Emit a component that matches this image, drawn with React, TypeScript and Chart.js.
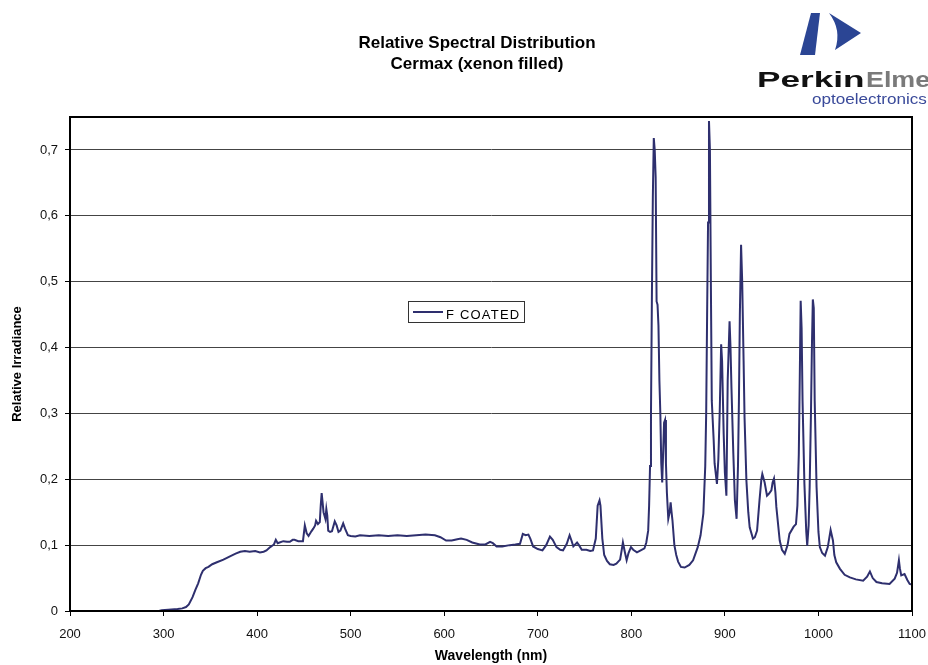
import React, { useEffect, useRef } from 'react';
import { Chart, registerables } from 'chart.js';

Chart.register(...registerables);

const titleLines = ['Relative Spectral Distribution', 'Cermax (xenon filled)'];
const seriesLabel = 'F COATED';
const xAxisTitle = 'Wavelength (nm)';
const yAxisTitle = 'Relative Irradiance';
const logoWord1 = 'Perkin';
const logoWord2 = 'Elmer';
const logoSub = 'optoelectronics';

const xMin = 200;
const xMax = 1100;
const xStep = 100;
const yMin = 0;
const yMax = 0.75;
const yStep = 0.1;

const wavelengths = [
  200, 250, 295, 298, 305, 315, 320, 324, 327, 331, 334, 337, 340, 342, 345, 348, 352, 357, 364, 371,
  377, 382, 387, 392, 398, 403, 407, 410, 414, 418, 420, 422, 424, 428, 432, 435, 438, 440, 444, 449,
  451, 453, 455, 458, 460, 462, 463, 465, 467, 468, 469, 470, 471, 473, 474, 475, 476, 478, 480, 483,
  485, 487, 489, 492, 494, 497, 500, 505, 510, 520, 530, 540, 550, 560, 570, 580, 590, 596, 602, 608,
  614, 618, 624, 630, 638, 644, 649, 652, 656, 662, 670, 676, 681, 684, 687, 690, 692, 695, 700, 705,
  709, 713, 716, 720, 724, 727, 731, 734, 736, 738, 742, 744, 747, 752, 756, 759, 762, 764, 766, 767,
  769, 771, 774, 777, 781, 784, 788, 790, 791, 793, 795, 797, 799.6, 802, 806, 810, 814, 816, 818, 819,
  820, 821, 822, 823, 824, 825, 826, 827, 828, 829, 830, 831, 832, 833, 834, 835, 836, 837, 838, 839.5,
  841, 842, 843, 844, 846, 848, 850, 853, 857, 862, 866, 871, 874, 877, 879, 880, 881, 882, 883, 884,
  885, 886, 888, 889, 891.5, 893, 894.5, 896, 897, 898.7, 900, 901.6, 903, 905, 906, 907, 909, 910.7, 912.5, 914,
  915, 916, 917.3, 918.5, 920, 921, 923, 925, 926.5, 930, 932, 934.4, 937, 939, 940, 942.5, 945, 947, 949.7, 951,
  952.5, 954, 955, 958.6, 961, 964, 967, 969, 973.5, 976, 977.5, 979, 980, 981, 982, 983, 985, 987, 988, 989.5,
  990.6, 992, 993, 994, 995, 996, 998, 1000, 1001.5, 1004, 1007, 1010, 1013, 1015.5, 1017, 1019, 1023, 1028, 1033.6, 1040,
  1047.8, 1052, 1055, 1058, 1062, 1068, 1076, 1081.5, 1084, 1086, 1087, 1088.5, 1092, 1095, 1097.5, 1100,
];

const irradiance = [
  0, 0, 0, 0.001, 0.002, 0.003, 0.004, 0.006, 0.01, 0.021, 0.032, 0.042, 0.055, 0.061, 0.065, 0.067, 0.071, 0.074, 0.078, 0.083,
  0.087, 0.09, 0.091, 0.09, 0.091, 0.089, 0.09, 0.092, 0.097, 0.101, 0.108, 0.103, 0.104, 0.106, 0.105, 0.105, 0.108, 0.108, 0.106, 0.106,
  0.13, 0.118, 0.114, 0.121, 0.125, 0.13, 0.137, 0.132, 0.135, 0.16, 0.179, 0.165, 0.15, 0.14, 0.155, 0.145, 0.122, 0.12, 0.121, 0.136,
  0.13, 0.12, 0.122, 0.133, 0.125, 0.115, 0.114, 0.113, 0.115, 0.114, 0.115, 0.114, 0.115, 0.114, 0.115, 0.116, 0.115, 0.112, 0.107, 0.107,
  0.109, 0.11, 0.108, 0.104, 0.101, 0.101, 0.105, 0.103, 0.098, 0.098, 0.1, 0.101, 0.102, 0.117, 0.115, 0.116, 0.11, 0.098, 0.094, 0.092,
  0.1, 0.113, 0.108, 0.097, 0.093, 0.092, 0.102, 0.115, 0.107, 0.098, 0.104, 0.1, 0.093, 0.093, 0.091, 0.092, 0.11, 0.16, 0.168, 0.16,
  0.11, 0.085, 0.076, 0.071, 0.07, 0.072, 0.078, 0.095, 0.104, 0.09, 0.077, 0.088, 0.097, 0.093, 0.089, 0.092, 0.095, 0.104, 0.122, 0.16,
  0.22, 0.3, 0.48, 0.63, 0.718, 0.7, 0.658, 0.47, 0.465, 0.433, 0.35, 0.3, 0.224, 0.195, 0.24, 0.286, 0.29, 0.224, 0.18, 0.14,
  0.15, 0.165, 0.15, 0.137, 0.1, 0.085, 0.075, 0.067, 0.066, 0.07, 0.077, 0.097, 0.115, 0.148, 0.22, 0.3, 0.45, 0.59, 0.744, 0.7,
  0.5, 0.319, 0.26, 0.224, 0.193, 0.23, 0.304, 0.405, 0.38, 0.269, 0.21, 0.175, 0.35, 0.44, 0.4, 0.34, 0.24, 0.168, 0.14, 0.22,
  0.319, 0.45, 0.556, 0.5, 0.38, 0.294, 0.198, 0.15, 0.127, 0.11, 0.112, 0.122, 0.168, 0.2, 0.208, 0.195, 0.175, 0.178, 0.183, 0.195,
  0.201, 0.18, 0.158, 0.107, 0.093, 0.087, 0.1, 0.117, 0.128, 0.132, 0.16, 0.238, 0.35, 0.471, 0.43, 0.32, 0.193, 0.12, 0.099, 0.13,
  0.188, 0.3, 0.4, 0.473, 0.46, 0.319, 0.188, 0.12, 0.097, 0.088, 0.084, 0.097, 0.123, 0.107, 0.085, 0.074, 0.064, 0.055, 0.051, 0.048,
  0.046, 0.052, 0.06, 0.05, 0.044, 0.042, 0.041, 0.049, 0.058, 0.077, 0.065, 0.054, 0.056, 0.047, 0.041, 0.04,
];

const FONT = '"Liberation Sans", Arial, sans-serif';
const LINE_COLOR = '#2e2f6e';

const decorPlugin = {
  id: 'decor',
  afterDraw(chart: any) {
    const ctx = chart.ctx as CanvasRenderingContext2D;
    const a = chart.chartArea;
    ctx.save();
    // frame
    ctx.strokeStyle = '#000';
    ctx.lineWidth = 2;
    ctx.strokeRect(a.left, a.top, a.right - a.left, a.bottom - a.top);

    // title
    ctx.fillStyle = '#000';
    ctx.font = `bold 17px ${FONT}`;
    ctx.textAlign = 'center';
    ctx.textBaseline = 'middle';
    ctx.fillText(titleLines[0], 477, 43);
    ctx.fillText(titleLines[1], 477, 64);

    // legend
    const lx = 408, ly = 301, lw = 116, lh = 21;
    ctx.fillStyle = '#fff';
    ctx.fillRect(lx, ly, lw, lh);
    ctx.strokeStyle = '#333';
    ctx.lineWidth = 1;
    ctx.strokeRect(lx + 0.5, ly + 0.5, lw, lh);
    ctx.strokeStyle = LINE_COLOR;
    ctx.lineWidth = 2;
    ctx.beginPath();
    ctx.moveTo(413, 312);
    ctx.lineTo(443, 312);
    ctx.stroke();
    ctx.fillStyle = '#000';
    ctx.font = `13px ${FONT}`;
    (ctx as any).letterSpacing = '1.2px';
    ctx.textAlign = 'left';
    ctx.textBaseline = 'alphabetic';
    ctx.fillText(seriesLabel, 446, 318.5);
    (ctx as any).letterSpacing = '0px';

    // logo mark
    ctx.fillStyle = '#2b4594';
    ctx.beginPath();
    ctx.moveTo(811, 13);
    ctx.lineTo(820, 13);
    ctx.lineTo(815, 55);
    ctx.lineTo(800, 55);
    ctx.closePath();
    ctx.fill();
    ctx.beginPath();
    ctx.moveTo(829, 13);
    ctx.lineTo(861, 33);
    ctx.lineTo(835, 50);
    ctx.quadraticCurveTo(842, 30, 829, 13);
    ctx.closePath();
    ctx.fill();

    // logo text
    ctx.save();
    ctx.beginPath();
    ctx.rect(740, 0, 188, 115);
    ctx.clip();
    ctx.font = `bold 22px ${FONT}`;
    ctx.textAlign = 'left';
    ctx.textBaseline = 'alphabetic';
    ctx.save();
    ctx.translate(757, 87);
    ctx.scale(1.6, 1);
    ctx.fillStyle = '#111';
    ctx.fillText(logoWord1, 0, 0);
    ctx.restore();
    ctx.save();
    ctx.translate(866, 87);
    ctx.scale(1.22, 1);
    ctx.fillStyle = '#7a7a7a';
    ctx.fillText(logoWord2, 0, 0);
    ctx.restore();
    ctx.restore();

    ctx.save();
    ctx.translate(812, 104);
    ctx.scale(1.22, 1);
    ctx.font = `14px ${FONT}`;
    ctx.fillStyle = '#3a4a9a';
    ctx.textAlign = 'left';
    ctx.textBaseline = 'alphabetic';
    ctx.fillText(logoSub, 0, 0);
    ctx.restore();

    ctx.restore();
  },
};

export default function App() {
  const ref = useRef<HTMLCanvasElement | null>(null);

  useEffect(() => {
    if (!ref.current) return;
    const chart = new Chart(ref.current, {
      type: 'line',
      data: {
        datasets: [
          {
            label: seriesLabel,
            data: wavelengths.map((w, i) => ({ x: w, y: irradiance[i] })),
            borderColor: LINE_COLOR,
            backgroundColor: LINE_COLOR,
            borderWidth: 2,
            pointRadius: 0,
            tension: 0,
            fill: false,
          },
        ],
      },
      options: {
        animation: false,
        responsive: false,
        maintainAspectRatio: false,
        layout: { padding: { top: 117, right: 16, bottom: 0, left: 0 } },
        plugins: {
          legend: { display: false },
          title: { display: false },
          tooltip: { enabled: false },
        },
        scales: {
          x: {
            type: 'linear',
            min: xMin,
            max: xMax,
            afterFit: (s: any) => {
              s.height = 54;
              s.paddingLeft = 0;
              s.paddingRight = 0;
            },
            ticks: {
              stepSize: xStep,
              autoSkip: false,
              maxRotation: 0,
              padding: 11,
              color: '#111',
              font: { family: FONT, size: 13 },
              callback: (v: any) => String(v),
            },
            grid: {
              drawOnChartArea: false,
              drawTicks: true,
              tickLength: 5,
              tickColor: '#000',
              lineWidth: 1,
            },
            border: { display: true, color: '#000', width: 2 },
            title: {
              display: true,
              text: xAxisTitle,
              color: '#000',
              font: { family: FONT, size: 14, weight: 'bold' },
              padding: { top: 0, bottom: 0 },
            },
          },
          y: {
            type: 'linear',
            min: yMin,
            max: yMax,
            afterFit: (s: any) => {
              s.width = 70;
              s.paddingTop = 0;
              s.paddingBottom = 0;
            },
            ticks: {
              stepSize: yStep,
              includeBounds: false,
              padding: 7,
              color: '#111',
              font: { family: FONT, size: 13 },
              callback: (v: any) => String(Math.round(Number(v) * 10) / 10).replace('.', ','),
            },
            grid: {
              color: '#444',
              lineWidth: 1,
              drawTicks: true,
              tickLength: 5,
              tickColor: '#000',
            },
            border: { display: true, color: '#000', width: 2 },
            title: {
              display: true,
              text: yAxisTitle,
              color: '#000',
              font: { family: FONT, size: 13, weight: 'bold' },
              padding: { top: 10, bottom: 0 },
            },
          },
        },
      },
      plugins: [decorPlugin],
    } as any);
    return () => chart.destroy();
  }, []);

  return (
    <div style={{ position: 'fixed', left: 0, top: 0, width: 928, height: 665, background: '#fff' }}>
      <canvas ref={ref} width={928} height={665} style={{ display: 'block', width: 928, height: 665 }} />
    </div>
  );
}
